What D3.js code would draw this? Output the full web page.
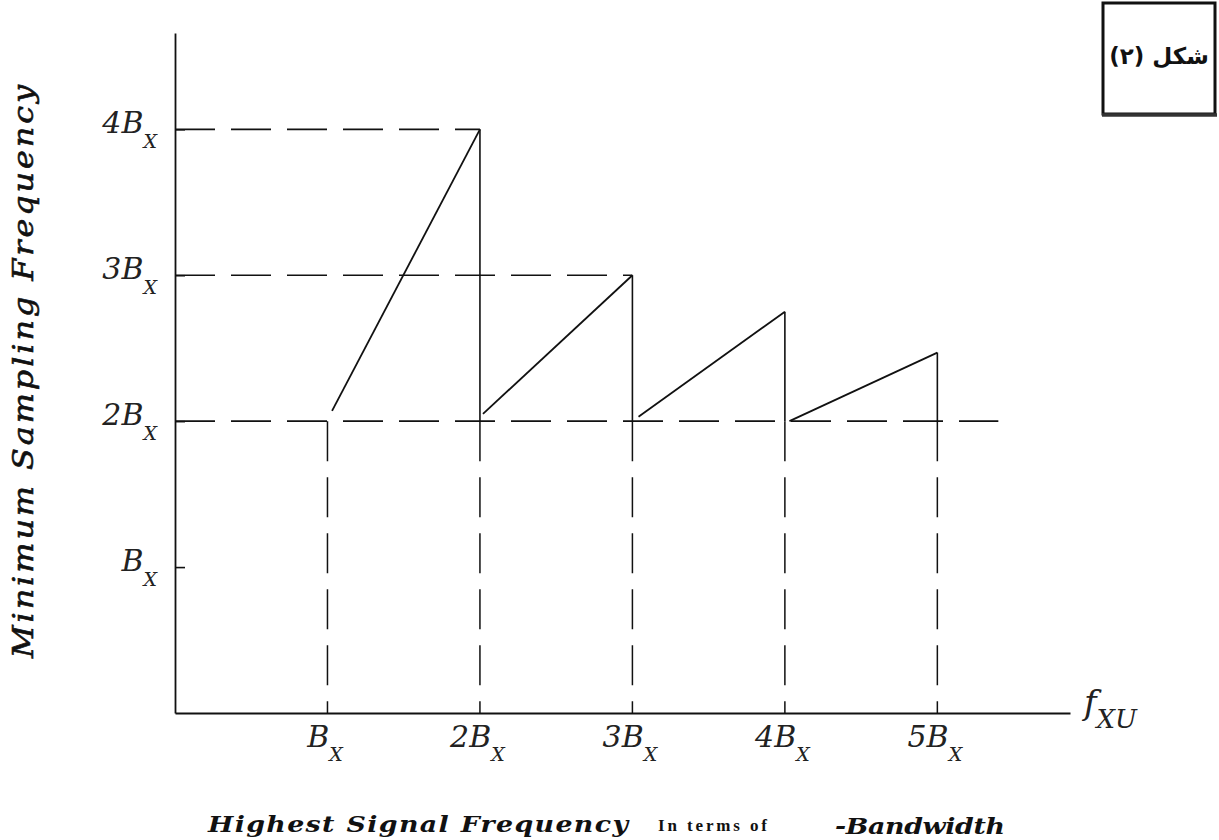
<!DOCTYPE html>
<html><head><meta charset="utf-8">
<script src="https://cdn.jsdelivr.net/npm/d3@7"></script>
<style>body{margin:0;background:#fff} svg{display:block}</style>
</head><body>
<svg id="chart" width="1219" height="840"></svg>
<script>
// ---- data ----
const xTickValues = [1, 2, 3, 4, 5];
const xTickLabels = ["B", "2B", "3B", "4B", "5B"];
const yTickValues = [1, 2, 3, 4];
const yTickLabels = ["B", "2B", "3B", "4B"];
const tickSubscript = "X";
// sawtooth ramps (in units of Bx)
const rampStartX = [1.03, 2.02, 3.04, 4.03];
const rampStartY = [2.07, 2.05, 2.03, 2.0];
const rampPeakX = [2, 3, 4, 5];
const rampPeakY = [4.0, 3.0, 2.75, 2.47];
// dashed reference levels and where they end
const refLevels = [4, 3, 2];
const refLevelEnds = [2, 3, 5.4];
// dashed verticals from level 2 to the axis
const dropX = [1, 2, 3, 4, 5];
const dropTop = 2;
const yAxisTitle = "Minimum Sampling Frequency";
const xAxisTitle = "Highest Signal Frequency";
const xAxisNote = "In terms of";
const xAxisTail = "-Bandwidth";
const xEndLabel = "f";
const xEndSub = "XU";
const figureLabel = "شکل (۲)";

// ---- layout ----
const svg = d3.select("#chart");
const x = d3.scaleLinear().domain([0, 5.87]).range([175, 1070]);
const y = d3.scaleLinear().domain([0, 4.66]).range([713, 33]);
const serif = "'DejaVu Serif', serif";
const dash = "40,16";

// dashed reference horizontals
svg.append("g").selectAll("line").data(refLevels).join("line")
  .attr("x1", x(0)).attr("x2", (d, i) => x(refLevelEnds[i]))
  .attr("y1", d => y(d)).attr("y2", d => y(d))
  .attr("stroke", "#111").attr("stroke-width", 1.7).attr("stroke-dasharray", dash);

// dashed verticals
svg.append("g").selectAll("line").data(dropX).join("line")
  .attr("x1", d => x(d)).attr("x2", d => x(d))
  .attr("y1", y(dropTop)).attr("y2", y(0))
  .attr("stroke", "#111").attr("stroke-width", 1.5).attr("stroke-dasharray", dash);

// solid drops at peaks
svg.append("g").selectAll("line").data(rampPeakX).join("line")
  .attr("x1", d => x(d)).attr("x2", d => x(d))
  .attr("y1", (d, i) => y(rampPeakY[i])).attr("y2", y(dropTop))
  .attr("stroke", "#111").attr("stroke-width", 1.6);

// ramps
svg.append("g").selectAll("line").data(rampPeakX).join("line")
  .attr("x1", (d, i) => x(rampStartX[i])).attr("y1", (d, i) => y(rampStartY[i]))
  .attr("x2", d => x(d)).attr("y2", (d, i) => y(rampPeakY[i]))
  .attr("stroke", "#111").attr("stroke-width", 1.8);

// axes
function subLabels(sel, baseY, subDy, subSize) {
  sel.selectAll(".tick text").each(function (d, i) {
    const t = d3.select(this);
    const lab = t.text();
    t.text(null).attr("dy", null).attr("y", baseY);
    t.append("tspan").text(lab);
    t.append("tspan").attr("dy", subDy).attr("font-size", subSize).text(tickSubscript);
  });
}
const gY = svg.append("g").attr("transform", `translate(${x(0)},0)`)
  .call(d3.axisLeft(y).tickValues(yTickValues).tickSizeInner(-10).tickSizeOuter(0)
    .tickPadding(18).tickFormat((d, i) => yTickLabels[i]));
gY.attr("font-family", serif).attr("font-size", 30).attr("font-style", "italic");
gY.select(".domain").attr("stroke", "#111").attr("stroke-width", 1.8);
gY.selectAll(".tick line").attr("stroke", "#111").attr("stroke-width", 1.6);
gY.selectAll(".tick text").attr("fill", "#222");
subLabels(gY, 3, 15, 19);

const gX = svg.append("g").attr("transform", `translate(0,${y(0)})`)
  .call(d3.axisBottom(x).tickValues(xTickValues).tickSize(0).tickSizeOuter(0)
    .tickPadding(0).tickFormat((d, i) => xTickLabels[i]));
gX.attr("font-family", serif).attr("font-size", 30).attr("font-style", "italic");
gX.select(".domain").attr("stroke", "#111").attr("stroke-width", 1.8);
gX.selectAll(".tick text").attr("fill", "#222").attr("x", -3);
subLabels(gX, 34, 14, 19);

// end label f_XU
const fl = svg.append("text").attr("x", 1084).attr("y", 714)
  .attr("font-family", serif).attr("font-style", "italic").attr("fill", "#222");
fl.append("tspan").attr("font-size", 34).text(xEndLabel);
fl.append("tspan").attr("font-size", 26).attr("dy", 14).text(xEndSub);

// y title
const ySx = 1.18;
svg.append("text")
  .attr("transform", `translate(33,658) rotate(-90) scale(${ySx},1)`)
  .attr("font-family", serif).attr("font-style", "italic")
  .attr("font-size", 27).attr("fill", "#111").attr("stroke", "#111").attr("stroke-width", 0.6)
  .attr("textLength", 573 / ySx).attr("lengthAdjust", "spacing")
  .text(yAxisTitle);

// x title pieces
const xSx = 1.22;
svg.append("text").attr("transform", `translate(208,832) scale(${xSx},1)`)
  .attr("font-family", serif).attr("font-style", "italic").attr("font-weight", "bold")
  .attr("font-size", 22).attr("fill", "#111")
  .attr("textLength", 420 / xSx).attr("lengthAdjust", "spacing")
  .text(xAxisTitle);
svg.append("text").attr("x", 658).attr("y", 831)
  .attr("font-family", "'Liberation Serif', serif").attr("font-weight", "bold")
  .attr("font-size", 17).attr("fill", "#111")
  .attr("textLength", 109).attr("lengthAdjust", "spacing")
  .text(xAxisNote);
svg.append("text").attr("transform", `translate(835,834) scale(${xSx},1)`)
  .attr("font-family", serif).attr("font-style", "italic").attr("font-weight", "bold")
  .attr("font-size", 22).attr("fill", "#111")
  .attr("textLength", 170 / xSx).attr("lengthAdjust", "spacing")
  .text(xAxisTail);

// figure label box
svg.append("rect").attr("x", 1103).attr("y", 3).attr("width", 112).attr("height", 111)
  .attr("fill", "none").attr("stroke", "#111").attr("stroke-width", 3);
svg.append("line").attr("x1", 1102).attr("x2", 1217).attr("y1", 115).attr("y2", 115)
  .attr("stroke", "#333").attr("stroke-width", 3.5);
svg.append("text").attr("x", 1159).attr("y", 64).attr("text-anchor", "middle")
  .attr("font-family", "'DejaVu Sans', sans-serif").attr("font-weight", "bold")
  .attr("font-size", 23).attr("fill", "#111")
  .text(figureLabel);
</script>
</body></html>
